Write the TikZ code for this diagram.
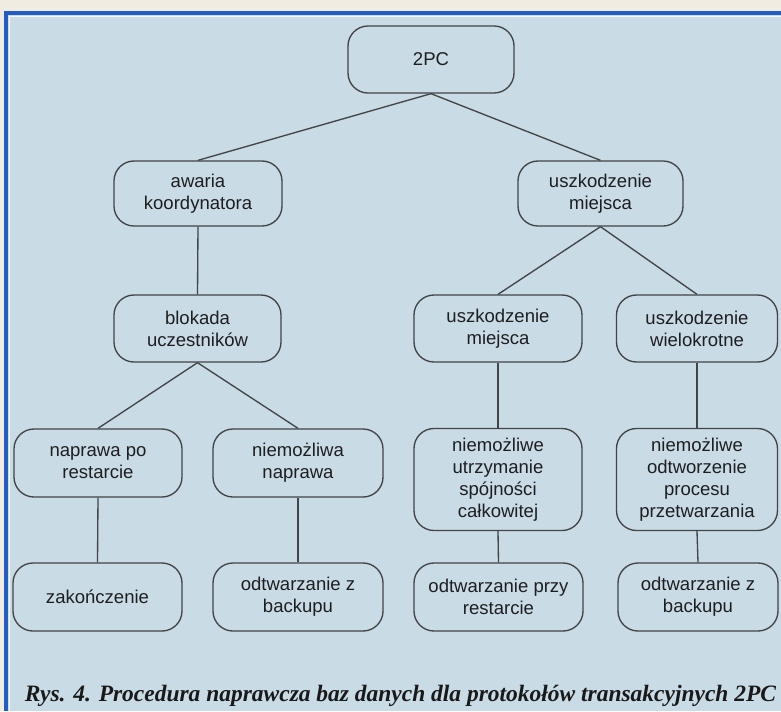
\documentclass[tikz,border=0pt]{standalone}
\usepackage{fontspec}
\setmainfont{Liberation Serif}
\newfontfamily\boxfont{Liberation Sans}
\definecolor{paper}{RGB}{240,236,226}
\definecolor{panel}{RGB}{201,219,228}
\definecolor{frameblue}{RGB}{34,92,196}
\definecolor{edge}{RGB}{66,68,70}
\definecolor{ink}{RGB}{30,30,32}
\tikzset{
  stepbox/.style={draw=edge, line width=1pt, rounded corners=15pt,
    align=center, inner sep=0pt, text=ink,
    font=\boxfont\fontsize{13.9pt}{16.5pt}\selectfont},
  link/.style={draw=edge, line width=1pt},
}
\begin{document}
\begin{tikzpicture}[x=0.75pt,y=-0.75pt]
  \useasboundingbox (0,0) rectangle (781,711);
  % page and tinted panel with its blue frame
  \fill[paper] (0,0) rectangle (781,711);
  \fill[panel] (7,14) rectangle (781,711);
  \draw[white!80!panel, line width=0.9pt] (9.5,711) -- (9.5,16.8) -- (781,16.8);
  \draw[frameblue, line width=2.8pt] (6,711) -- (6,13.3) -- (781,13.3);

  % tree of recovery cases
  \node[stepbox, minimum width=124.5pt, minimum height=50.25pt] (root) at (431,59.5) {2PC};
  \node[stepbox, minimum width=126pt, minimum height=48.75pt] (coord) at (198,193.5) {awaria\\koordynatora};
  \node[stepbox, minimum width=123.75pt, minimum height=48.75pt] (site) at (600.5,193.5) {uszkodzenie\\miejsca};

  \node[stepbox, minimum width=125.25pt, minimum height=50.25pt] (block) at (197.5,328.5) {blokada\\uczestników};
  \node[stepbox, minimum width=126pt, minimum height=50.25pt] (site2) at (498,328.5) {uszkodzenie\\miejsca};
  \node[stepbox, minimum width=120.75pt, minimum height=50.25pt] (multi) at (697,328.5) {uszkodzenie\\wielokrotne};

  \node[stepbox, minimum width=126pt, minimum height=51pt] (restart) at (98,463) {naprawa po\\restarcie};
  \node[stepbox, minimum width=127.5pt, minimum height=51pt] (norepair) at (298,463) {niemożliwa\\naprawa};
  \node[stepbox, minimum width=126pt, minimum height=76.5pt] (consist) at (498,479.5) {niemożliwe\\utrzymanie\\spójności\\całkowitej};
  \node[stepbox, minimum width=120.75pt, minimum height=76.5pt] (process) at (697,479.5) {niemożliwe\\odtworzenie\\procesu\\przetwarzania};

  \node[stepbox, minimum width=126.75pt, minimum height=51pt] (finish) at (97.5,597) {zakończenie};
  \node[stepbox, minimum width=127.5pt, minimum height=51pt] (backupA) at (298,597) {odtwarzanie z\\backupu};
  \node[stepbox, minimum width=126.75pt, minimum height=51pt] (atrestart) at (498.5,597) {odtwarzanie przy\\restarcie};
  \node[stepbox, minimum width=120pt, minimum height=51pt] (backupB) at (698,597) {odtwarzanie z\\backupu};

  % connectors
  \draw[link] (root.south) -- (coord.north);
  \draw[link] (root.south) -- (site.north);
  \draw[link] (coord.south) -- (block.north);
  \draw[link] (site.south) -- (site2.north);
  \draw[link] (site.south) -- (multi.north);
  \draw[link] (block.south) -- (restart.north);
  \draw[link] (block.south) -- (norepair.north);
  \draw[link] (site2.south) -- (consist.north);
  \draw[link] (multi.south) -- (process.north);
  \draw[link] (restart.south) -- (finish.north);
  \draw[link] (norepair.south) -- (backupA.north);
  \draw[link] (consist.south) -- (atrestart.north);
  \draw[link] (process.south) -- (backupB.north);

  % caption
  \node[anchor=base, inner sep=0pt, text=black!90,
    font=\bfseries\itshape\fontsize{17.6pt}{20pt}\selectfont] (caption) at (400.5,701)
    {Rys. 4. Procedura naprawcza baz danych dla protokołów transakcyjnych 2PC};
\end{tikzpicture}
\end{document}
